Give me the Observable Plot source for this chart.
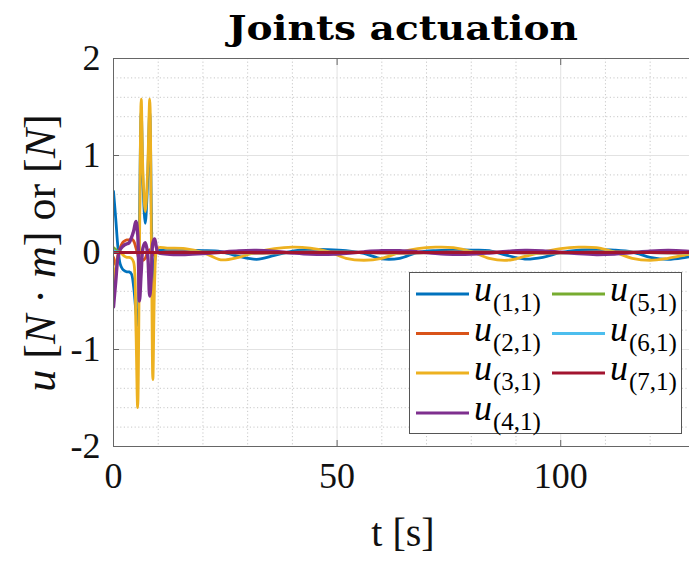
<!DOCTYPE html>
<html><head><meta charset="utf-8">
<script src="https://cdn.jsdelivr.net/npm/d3@7"></script>
<script src="https://cdn.jsdelivr.net/npm/@observablehq/plot@0.6"></script>
<style>body{margin:0;background:#fff;} #chart svg{display:block;} #chart svg text{font-family:"Liberation Serif", serif;} #chart svg text.ttl{font-family:"DejaVu Serif", serif;}</style>
</head><body><div id="chart"></div>
<script>
// time samples [s]
const t = [0,0.5,1,1.5,2,2.5,3,3.5,4,4.5,5,5.4,5.8,6.2,6.6,7.1,7.6,8.1,8.5,8.8,9.2,9.6,10,
  12,16,20,24,28,32,36,40,44,48,52,56,60,64,68,72,76,80,84,88,92,96,100,104,108,112,116,120,124,128,130];

const u1 = [0.63,0.35,0.05,-0.12,-0.17,-0.19,-0.2,-0.2,-0.22,-0.35,-0.6,-0.75,0.3,1.45,0.7,0.3,0.7,1.45,0.3,-0.4,-0.1,0.0,0.02,
  0.02,0.02,0.02,0.01,-0.04,-0.07,-0.03,0.015,0.03,0.03,0.02,-0.01,-0.065,-0.06,0.0,0.02,0.025,0.025,0.02,-0.03,-0.068,-0.05,0.0,0.025,0.03,0.025,0.005,-0.05,-0.07,-0.05,-0.035];
const u2 = [-0.05,-0.13,-0.03,0.05,0.1,0.12,0.13,0.13,0.14,0.12,0.05,-0.02,-0.08,-0.05,-0.08,-0.06,0.0,0.03,0.0,-0.03,0.0,0.0,0.0,
  0.005,0.008,0.005,0,-0.005,-0.008,-0.005,0,0.005,0.008,0.005,0,-0.005,-0.008,-0.005,0,0.005,0.008,0.005,0,-0.005,-0.008,-0.005,0,0.005,0.008,0.005,0,-0.005,-0.008,-0.005];
const u3 = [-0.3,-0.15,-0.03,0.0,-0.02,-0.04,-0.05,-0.05,-0.06,-0.1,-0.75,-1.6,0.0,1.58,0.8,0.42,0.8,1.58,0.0,-1.31,-0.3,0.02,0.05,
  0.045,0.04,0.0,-0.075,-0.05,0.005,0.04,0.055,0.045,0.01,-0.06,-0.08,-0.06,0.0,0.04,0.055,0.05,0.01,-0.06,-0.08,-0.04,0.005,0.04,0.055,0.05,0.005,-0.06,-0.08,-0.06,-0.025,-0.01];
const u4 = [-0.56,-0.3,-0.05,0.03,0.06,0.08,0.09,0.1,0.15,0.22,0.32,0.2,-0.5,-0.2,0.05,0.1,0.0,-0.45,-0.2,0.1,0.14,0.05,0.0,
  -0.015,-0.02,-0.012,0.003,0.016,0.02,0.011,-0.005,-0.017,-0.019,-0.009,0.007,0.018,0.018,0.007,-0.009,-0.019,-0.017,-0.005,0.011,0.02,0.016,0.003,-0.012,-0.02,-0.015,-0.001,0.013,0.02,0.014,0.007];
const u5 = [0.05,0.03,0.01,0.005,0,0,0,0,0,0,0,0,0,0,0,0,0,0,0,0,0,0,0,
  0,0,0,0,0,0,0,0,0,0,0,0,0,0,0,0,0,0,0,0,0,0,0,0,0,0,0,0,0,0,0];
const u6 = [0.02,0.01,0.005,0,0,0,0,0,0,0,0,0,0,0,0,0,0,0,0,0,0,0,0,
  0.003,0.004,0.003,0,-0.003,-0.004,-0.003,0,0.003,0.004,0.003,0,-0.003,-0.004,-0.003,0,0.003,0.004,0.003,0,-0.003,-0.004,-0.003,0,0.003,0.004,0.003,0,-0.003,-0.004,-0.003];
const u7 = [0,0,0,0,0,0,0,0,0,0,0,0,0,0,0,0,0,0,0,0,0,0,0,
  0,0,0,0,0,0,0,0,0,0,0,0,0,0,0,0,0,0,0,0,0,0,0,0,0,0,0,0,0,0,0];

const series = [u1,u2,u3,u4,u5,u6,u7];
const subscripts = ["(1,1)","(2,1)","(3,1)","(4,1)","(5,1)","(6,1)","(7,1)"];
const colors = ["#0072BD","#D95319","#EDB120","#7E2F8E","#77AC30","#4DBEEE","#A2142F"];
const widths = [2.8,2.8,2.8,3.4,2.8,2.8,3.2];

const xTicks = [0,50,100];
const yTicks = [-2,-1,0,1,2];
const xMinor = [10,20,30,40,60,70,80,90,110,120];
const yMinor = [-1.8,-1.6,-1.4,-1.2,-0.8,-0.6,-0.4,-0.2,0.2,0.4,0.6,0.8,1.2,1.4,1.6,1.8];
const xMajorGrid = [50,100];
const yMajorGrid = [-1,0,1];

const serif = "Liberation Serif";
const lineMarks = series.map((vals, i) =>
  Plot.line(t.map((tt, j) => ({t: tt, u: vals[j]})), {
    x: "t", y: "u", stroke: colors[i], strokeWidth: widths[i], curve: "catmull-rom", clip: true
  }));

const axisColor = "#666";
const svg = Plot.plot({
  width: 689, height: 564,
  marginLeft: 113, marginRight: 0, marginTop: 58, marginBottom: 118,
  style: {fontFamily: serif, fontSize: "34px", color: "#000", background: "#fff"},
  x: {domain: [0, 128.8]},
  y: {domain: [-2, 2]},
  marks: [
    Plot.ruleX(xMinor, {stroke: "#c8c8c8", strokeDasharray: "1.2,2.4"}),
    Plot.ruleY(yMinor, {stroke: "#c8c8c8", strokeDasharray: "1.2,2.4"}),
    Plot.ruleX(xMajorGrid, {stroke: "#e2e2e2"}),
    Plot.ruleY(yMajorGrid, {stroke: "#e2e2e2"}),
    ...lineMarks,
    Plot.ruleY([-2, 2], {stroke: axisColor}),
    Plot.ruleX([0], {stroke: axisColor}),
    Plot.axisX(xTicks, {anchor: "bottom", tickSize: 6, dy: -6, stroke: axisColor, tickFormat: () => "", label: null}),
    Plot.axisX(xTicks, {anchor: "top", tickSize: 6, dy: 6, stroke: axisColor, tickFormat: () => "", label: null}),
    Plot.axisY(yTicks, {anchor: "left", tickSize: 6, dx: 6, stroke: axisColor, tickFormat: () => "", label: null}),
    Plot.axisX(xTicks, {anchor: "bottom", tickSize: 0, tickPadding: 16, fontSize: 36, fontFamily: serif, fill: "#111", label: null}),
    Plot.axisY(yTicks, {anchor: "left", tickSize: 0, tickPadding: 13, fontSize: 36, fontFamily: serif, fill: "#111", label: null, tickFormat: d => String(d)})
  ]
});
document.getElementById("chart").appendChild(svg);

const s = d3.select(svg);
// Title
s.append("text").attr("class", "ttl").attr("x", 403).attr("y", 40).attr("text-anchor", "middle")
  .attr("font-weight", "bold").attr("font-size", 33).attr("fill", "#000")
  .attr("textLength", 350).attr("lengthAdjust", "spacingAndGlyphs")
  .text("Joints actuation");
// X label
s.append("text").attr("x", 403).attr("y", 546).attr("text-anchor", "middle")
  .attr("font-family", serif).attr("font-size", 40).attr("fill", "#111").text("t [s]");
// Y label
const yl = s.append("text").attr("transform", "translate(55,253) rotate(-90)").attr("text-anchor", "middle")
  .attr("font-family", serif).attr("font-size", 44).attr("fill", "#111");
[["u", true], [" [", false], ["N", true], [" · ", false], ["m", true], ["] or [", false], ["N", true], ["]", false]]
  .forEach(([txt, it]) => yl.append("tspan").attr("font-style", it ? "italic" : "normal").text(txt));

// Legend
const lg = s.append("g");
lg.append("rect").attr("x", 409.5).attr("y", 272.5).attr("width", 272).attr("height", 161)
  .attr("fill", "#fff").attr("stroke", "#555").attr("stroke-width", 1);
const rowsY = [294, 333.5, 373, 413];
series.forEach((_, i) => {
  const col = i < 4 ? 0 : 1;
  const row = i < 4 ? i : i - 4;
  const x0 = col === 0 ? 416 : 552;
  const y0 = rowsY[row];
  lg.append("line").attr("x1", x0).attr("x2", x0 + 53).attr("y1", y0).attr("y2", y0)
    .attr("stroke", colors[i]).attr("stroke-width", 2.8);
  const tx = lg.append("text").attr("x", x0 + 58).attr("y", y0 + 7).attr("text-anchor", "start")
    .attr("font-family", serif).attr("font-size", 36).attr("fill", "#000");
  tx.append("tspan").attr("font-style", "italic").text("u");
  tx.append("tspan").attr("font-size", 25).attr("dx", 1).attr("dy", 10).text(subscripts[i]);
});
</script>
</body></html>
